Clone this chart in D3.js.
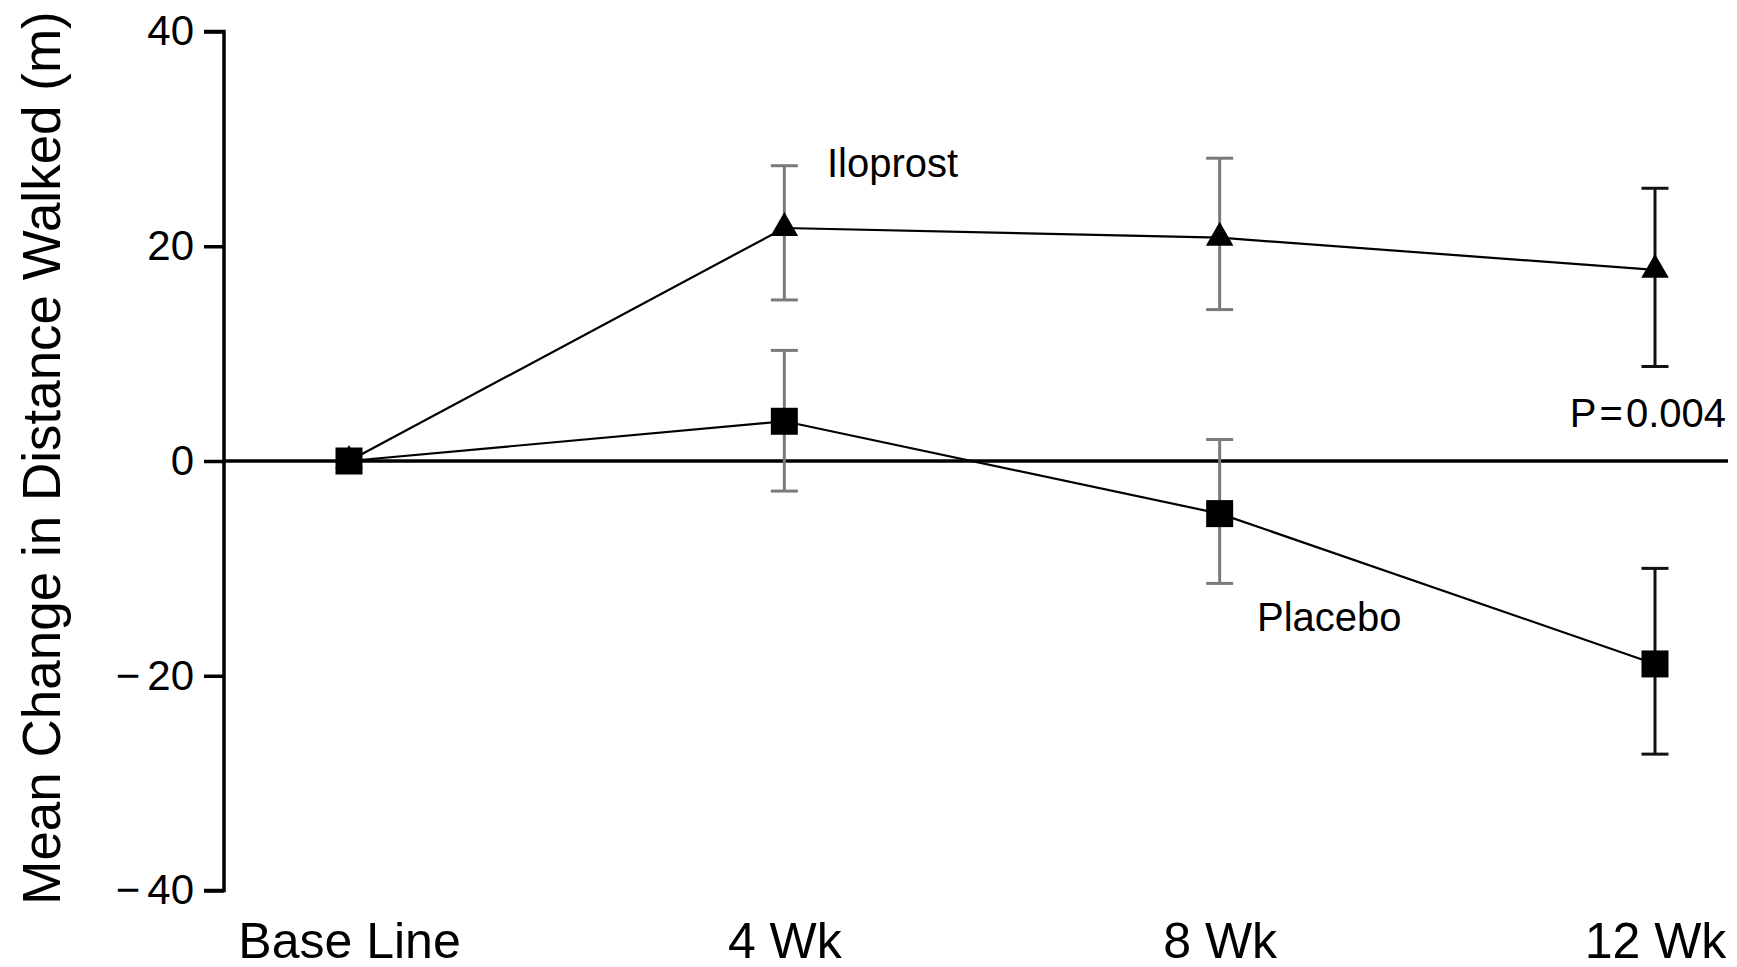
<!DOCTYPE html>
<html>
<head>
<meta charset="utf-8">
<script src="https://cdn.jsdelivr.net/npm/d3@7"></script>
<style>
  html, body { margin: 0; padding: 0; background: #fff; }
  svg { display: block; }
  text { font-family: "Liberation Sans", Arial, sans-serif; fill: #000; }
</style>
</head>
<body>
<svg id="chart" width="1737" height="967"></svg>
<script>
const categories = ["Base Line", "4 Wk", "8 Wk", "12 Wk"];
const yTicks = [-40, -20, 0, 20, 40];

const iloprostMean  = [0, 21.7, 20.8, 17.8];
const iloprostUpper = [null, 27.5, 28.2, 25.4];
const iloprostLower = [null, 15.0, 14.1, 8.8];

const placeboMean  = [0, 3.7, -4.9, -18.9];
const placeboUpper = [null, 10.3, 2.0, -10.0];
const placeboLower = [null, -2.8, -11.4, -27.3];

const errorBarColors = [null, "#7a7a7a", "#7a7a7a", "#111"];

const svg = d3.select("#chart");
const x = d3.scalePoint().domain(categories).range([349, 1655]);
const y = d3.scaleLinear().domain([-40, 40]).range([890.5, 31.5]);
const axisX = 224;

// Y axis
const yAxis = d3.axisLeft(y).tickValues(yTicks).tickSize(20).tickPadding(10)
  .tickFormat(d => String(Math.abs(d)));
const gy = svg.append("g").attr("transform", `translate(${axisX},0)`).call(yAxis);
gy.select(".domain").attr("d", `M-20,${y(40)}H0V${y(-40)}H-20`).attr("stroke", "#000").attr("stroke-width", 3.5).attr("fill", "none");
gy.selectAll(".tick line").attr("stroke", "#000").attr("stroke-width", 3.5);
gy.selectAll(".tick text").attr("font-size", 42).attr("font-family", "Liberation Sans, Arial, sans-serif").attr("fill", "#000")
  .each(function(d) {
    if (d < 0) {
      const t = d3.select(this);
      const num = t.text();
      t.text(null);
      t.append("tspan").text("\u2212");
      t.append("tspan").attr("dx", 7).text(num);
    }
  });

// X labels (no axis line)
const xAxis = d3.axisBottom(x).tickSize(0).tickPadding(0);
const gx = svg.append("g").attr("transform", `translate(0,${y(-40)})`).call(xAxis);
gx.select(".domain").remove();
gx.selectAll(".tick text").attr("font-size", 50).attr("dy", null).attr("y", 67)
  .attr("font-family", "Liberation Sans, Arial, sans-serif").attr("fill", "#000");

// zero line
svg.append("line").attr("x1", axisX).attr("x2", 1728).attr("y1", y(0)).attr("y2", y(0))
  .attr("stroke", "#000").attr("stroke-width", 3.5);

// Y title
svg.append("text").attr("transform", `translate(60,${458}) rotate(-90)`)
  .attr("text-anchor", "middle").attr("font-size", 53)
  .text("Mean Change in Distance Walked (m)");

function drawSeries(mean, upper, lower, symbolType, symbolSize) {
  const pts = categories.map((c, i) => ({c, i, m: mean[i], u: upper[i], l: lower[i]}));
  const eb = pts.filter(p => p.u !== null);
  const g = svg.append("g");
  eb.forEach(p => {
    const col = errorBarColors[p.i];
    const cx = x(p.c);
    g.append("line").attr("x1", cx).attr("x2", cx).attr("y1", y(p.u)).attr("y2", y(p.l))
      .attr("stroke", col).attr("stroke-width", 3);
    [p.u, p.l].forEach(v => {
      g.append("line").attr("x1", cx - 13.5).attr("x2", cx + 13.5).attr("y1", y(v)).attr("y2", y(v))
        .attr("stroke", col).attr("stroke-width", 3);
    });
  });
  const line = d3.line().x(p => x(p.c)).y(p => y(p.m));
  svg.append("path").datum(pts).attr("d", line).attr("fill", "none").attr("stroke", "#000").attr("stroke-width", 2.2);
  return svg.append("g").selectAll("path").data(pts).join("path")
    .attr("transform", p => `translate(${x(p.c)},${y(p.m)})`)
    .attr("d", d3.symbol().type(symbolType).size(symbolSize))
    .attr("fill", "#000");
}

drawSeries(iloprostMean, iloprostUpper, iloprostLower, d3.symbolTriangle, 330);
drawSeries(placeboMean, placeboUpper, placeboLower, d3.symbolSquare, 27 * 27);

// annotations
svg.append("text").attr("x", 827).attr("y", 177).attr("font-size", 40).text("Iloprost");
svg.append("text").attr("x", 1257).attr("y", 631).attr("font-size", 40).text("Placebo");
const pt = svg.append("text").attr("x", 1726).attr("y", 427).attr("font-size", 40).attr("text-anchor", "end");
pt.append("tspan").text("P");
pt.append("tspan").attr("dx", 3).text("=");
pt.append("tspan").attr("dx", 3).text("0.004");
</script>
</body>
</html>
